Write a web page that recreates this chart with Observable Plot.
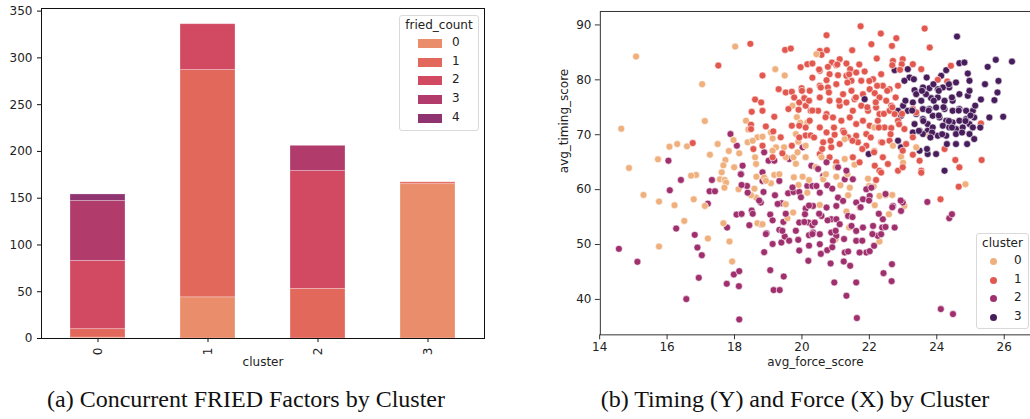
<!DOCTYPE html>
<html>
<head>
<meta charset="utf-8">
<script src="https://cdn.jsdelivr.net/npm/d3@7"></script>
<script src="https://cdn.jsdelivr.net/npm/@observablehq/plot@0.6"></script>
<style>
  html, body { margin: 0; padding: 0; background: #fff; }
  #page { position: relative; width: 1030px; height: 419px; overflow: hidden; font-family: "DejaVu Sans", sans-serif; }
  .chart { position: absolute; top: 0; }
  .legend { position: absolute; background: rgba(255,255,255,0.85); border: 1px solid #d9d9d9; border-radius: 3px; box-sizing: border-box; font-size: 12px; color: #222; }
  .legend .title { position: absolute; left: 0; right: 0; text-align: center; }
  .legend .row { position: absolute; left: 0; right: 0; height: 18px; }
  .caption { position: absolute; font-family: "Liberation Serif", "DejaVu Serif", serif; font-size: 24px; color: #111; white-space: nowrap; transform: translateX(-50%); }
</style>
</head>
<body>
<div id="page">
  <div id="left" class="chart" style="left:0px"></div>
  <div id="right" class="chart" style="left:520px"></div>
  <div id="legL" class="legend" style="left:399px; top:15px; width:80px; height:116px;"></div>
  <div id="legR" class="legend" style="left:976px; top:233px; width:53px; height:96px;"></div>
  <div class="caption" style="left:246px; top:386px;">(a) Concurrent FRIED Factors by Cluster</div>
  <div class="caption" style="left:795px; top:386px;">(b) Timing (Y) and Force (X) by Cluster</div>
</div>
<script>
// ---------- Data: left chart (stacked counts) ----------
const clusters = ["0", "1", "2", "3"];
const friedLevels = ["0", "1", "2", "3", "4"];
const friedColors = ["#e98d6b", "#e3685c", "#d14a61", "#b13c6c", "#8f3371"];
// counts per fried_count level (0..4) for each cluster
const cluster0Counts = [1, 9, 73, 64, 7];
const cluster1Counts = [44, 243, 49, 0, 0];
const cluster2Counts = [0, 53, 126, 27, 0];
const cluster3Counts = [165, 2, 0, 0, 0];
const leftYTicks = [0, 50, 100, 150, 200, 250, 300, 350];

// ---------- Data: right chart (scatter) ----------
const scatterClusters = [0, 1, 2, 3];
const scatterColors = ["#efb07d", "#e2584f", "#9f2f6d", "#481d5b"];
const xTicks = [14, 16, 18, 20, 22, 24, 26];
const yTicks = [40, 50, 60, 70, 80, 90];

// [avg_force_score, avg_timing_score]
const cluster0Points = [
[15.08,84.24],[18.02,86.06],[17.04,79.21],[17.12,72.48],[14.64,71.09],[19.21,81.94],[19.49,80.79],
[16.07,67.82],[16.30,68.30],[16.59,67.88],[17.50,68.30],[15.73,65.52],[14.87,63.94],[17.27,66.36],
[17.83,67.03],[17.97,69.03],[18.14,66.61],[18.34,72.55],[18.41,70.97],[18.68,69.52],[18.83,69.64],
[19.08,70.42],[19.13,69.33],[19.23,67.70],[17.73,65.39],[17.67,64.42],[17.99,64.06],[18.61,65.88],
[19.72,75.27],[19.82,70.12],[19.89,68.73],[20.11,68.00],[19.75,65.88],[19.47,67.70],[19.87,66.79],
[16.86,62.67],[16.71,62.55],[17.62,63.15],[18.64,64.67],[18.39,68.61],[20.16,72.24],[15.30,59.03],
[15.76,57.82],[15.76,49.64],[16.22,57.15],[16.51,54.30],[16.79,58.24],[17.12,57.03],[17.21,51.09],
[17.67,53.88],[17.85,50.55],[17.93,46.91],[17.57,61.88],[17.71,61.76],[17.75,61.27],[17.70,60.36],
[18.12,60.06],[18.59,60.18],[18.64,58.55],[18.49,58.97],[19.08,61.15],[19.18,62.67],[19.52,57.33],
[19.57,54.79],[19.74,55.82],[19.76,62.24],[20.02,62.36],[19.90,60.85],[20.16,59.45],[20.21,61.76],
[18.68,53.88],[18.83,53.70],[18.65,62.36],[18.88,62.18],[21.02,62.36],[21.14,60.79],[21.42,60.36],
[21.37,58.97],[21.96,62.00],[21.99,60.67],[22.13,60.55],[22.30,58.85],[22.48,58.97],[22.68,59.03],
[21.71,56.73],[22.16,57.15],[21.32,56.00],[22.58,55.52],[23.04,57.03],[20.53,57.21],[21.00,50.97],
[22.30,50.55],[24.85,60.97],[21.40,53.09],[20.63,61.88],[20.43,84.67],[22.15,71.33],[21.27,69.21],
[23.78,69.82],[23.39,67.70],[22.15,67.09],[22.94,65.97],[21.27,65.58],[20.58,65.88],[21.56,64.55],
[22.70,68.00],[23.00,64.90],[19.85,73.20],[19.95,72.20],
[18.54,68.90],[19.13,67.10],[19.52,65.90],[19.82,64.70],[20.11,65.90],[20.41,64.10],[20.71,62.80],
[21.00,64.10],[21.35,62.80],[19.33,62.80],[18.93,61.60]
];
const cluster1Points = [
[21.74,89.76],[23.64,89.33],[20.73,88.12],[22.34,88.42],[22.80,87.58],[22.06,86.49],[22.67,86.18],
[23.79,85.88],[20.53,85.27],[20.74,85.39],[20.58,84.55],[21.12,83.76],[21.49,85.39],[22.22,83.88],
[22.99,83.76],[22.96,82.85],[23.54,81.94],[24.42,82.55],[20.89,83.15],[20.77,82.36],[21.02,82.67],
[21.32,82.97],[21.43,81.94],[21.86,81.52],[22.35,81.03],[22.70,83.45],[22.68,82.67],[22.91,81.82],
[20.53,81.64],[20.82,81.03],[20.73,79.94],[21.07,80.85],[21.32,80.73],[21.47,79.82],[21.61,81.33],
[21.76,79.82],[22.11,80.12],[22.01,78.30],[22.16,77.57],[22.40,78.91],[22.60,78.30],[22.85,78.91],
[24.03,80.00],[24.31,79.70],[20.53,78.91],[20.77,78.61],[21.02,79.21],[21.22,77.39],[21.47,78.00],
[21.56,76.48],[21.81,77.39],[22.30,76.79],[22.50,76.18],[22.65,75.27],[20.53,76.79],[20.82,76.18],
[21.12,75.27],[21.32,75.88],[21.51,74.36],[21.76,75.27],[21.96,74.36],[22.20,74.97],[22.30,73.76],
[22.60,74.36],[22.75,73.76],[22.85,72.55],[20.48,74.36],[20.73,73.76],[20.92,73.15],[21.17,72.55],
[21.42,73.15],[21.61,71.94],[21.81,72.55],[22.01,71.64],[22.25,72.55],[22.45,71.33],[22.65,71.21],
[23.04,71.03],[23.29,74.67],[23.39,74.06],[24.23,67.39],[25.31,72.06],[25.33,65.39],[24.55,65.39],
[24.67,64.06],[23.54,63.45],[20.53,71.33],[20.73,70.42],[20.97,70.00],[21.22,70.73],[21.37,69.52],
[21.61,69.82],[21.91,70.12],[20.63,68.61],[20.87,67.70],[21.12,68.30],[21.66,68.61],[21.91,68.00],
[22.35,68.61],[22.60,68.91],[23.09,68.30],[23.29,69.52],[20.53,66.48],[20.82,65.88],[21.02,64.97],
[21.51,65.88],[21.71,64.97],[22.40,65.88],[22.55,64.67],[22.99,67.09],[22.16,64.36],[22.30,63.45],
[22.85,63.45],[23.49,65.27],[22.99,64.06],[23.29,66.36],[23.29,82.85],[23.54,63.09],[24.65,60.54],
[24.11,58.24],[22.20,61.76],[22.35,63.10],
[18.47,86.55],[19.50,85.45],[19.67,85.70],[17.52,82.61],[18.83,80.79],[19.96,82.30],[20.16,82.85],
[20.31,82.97],[18.61,76.42],[18.79,75.88],[18.51,74.18],[18.83,74.36],[19.18,73.27],[19.31,78.30],
[19.52,77.70],[19.70,77.82],[19.99,78.48],[20.23,78.00],[19.77,76.79],[19.92,75.88],[20.07,76.67],
[20.21,76.18],[19.60,74.67],[19.90,74.55],[20.11,75.27],[20.26,74.36],[18.49,71.82],[18.49,71.03],
[18.93,71.52],[19.15,70.61],[19.70,71.64],[19.92,71.64],[20.23,72.55],[20.11,69.88],[20.26,69.88],
[16.76,68.48],[18.56,67.39],[18.83,68.00],[19.37,69.52],[19.70,68.00],[19.13,65.88],[19.42,66.61],
[20.56,78.60],[20.80,77.70],[21.10,76.20],[21.35,79.50],[21.60,76.80],[21.94,75.00],[22.19,75.90],
[22.43,73.80],[20.70,73.20],[20.95,71.30],[21.25,70.40],[21.50,68.90],[21.79,67.40],[22.04,69.50],
[22.28,71.30],[20.31,74.40],[20.21,76.20],[20.00,78.00],[20.31,80.40],[20.51,81.90],[21.05,82.80],
[21.40,81.00],[21.70,82.80],[22.00,79.80],[22.23,78.90],[22.53,78.00],[22.78,76.80],[22.68,75.00],
[22.97,73.80],[22.88,71.90],[22.63,70.10],[22.38,68.60],[22.14,66.80],[20.85,68.90],[20.60,67.40],
[20.36,69.50],[20.11,71.30],[19.92,69.50]
];
const cluster2Points = [
[17.88,70.12],[18.07,68.00],[16.04,65.27],[18.24,64.36],[18.19,62.85],[18.88,66.79],[19.01,65.27],
[19.18,65.27],[19.62,65.58],[20.02,67.70],[18.83,63.15],[20.28,64.36],[14.57,49.21],[15.12,46.85],
[16.08,59.88],[16.41,61.76],[16.27,52.91],[16.82,51.76],[16.90,49.45],[17.03,48.06],[16.94,43.94],
[16.57,40.06],[17.26,59.70],[17.42,59.70],[17.33,61.76],[17.21,57.45],[17.78,53.09],[18.06,55.45],
[18.21,55.58],[17.98,44.55],[18.14,45.15],[17.77,42.85],[18.13,42.42],[18.14,36.36],[18.51,56.18],
[18.78,57.64],[18.44,53.52],[18.79,53.70],[18.95,52.06],[19.06,55.45],[18.88,48.61],[19.06,45.33],
[19.46,44.18],[19.16,41.70],[19.34,41.70],[19.39,50.36],[19.49,51.45],[19.33,52.67],[19.45,54.12],
[19.40,57.52],[19.59,59.33],[19.75,59.58],[19.92,59.58],[19.89,50.85],[19.92,54.00],[20.19,47.03],
[20.21,51.70],[20.11,56.55],[20.09,55.52],[20.19,54.00],[20.31,53.52],[20.16,60.67],[20.31,60.67],
[18.39,59.45],[18.37,60.67],[18.21,60.85],[18.86,59.58],[19.20,58.97],[18.83,61.58],[19.33,61.58],
[18.19,62.79],[20.43,60.67],[20.63,62.48],[20.53,59.45],[20.75,60.79],[20.90,60.18],[21.07,58.55],
[21.27,61.88],[21.51,61.88],[20.33,57.03],[20.73,56.73],[21.02,57.03],[21.22,57.94],[21.61,57.64],
[21.81,58.24],[21.91,60.06],[22.01,58.85],[22.06,60.36],[20.58,55.21],[20.87,54.61],[21.02,54.61],
[21.12,53.70],[21.37,55.21],[21.47,53.39],[21.61,52.48],[21.81,53.09],[22.11,53.39],[22.40,54.61],
[22.38,53.09],[22.70,57.03],[22.94,56.12],[22.99,57.64],[20.38,54.00],[20.33,52.18],[20.53,51.88],
[20.87,52.18],[21.02,51.58],[20.92,50.67],[20.53,50.06],[20.75,48.97],[21.27,48.55],[21.37,48.73],
[21.61,50.67],[21.91,48.55],[22.01,48.79],[22.14,49.76],[22.25,51.58],[22.35,51.88],[22.75,53.09],
[20.85,46.55],[21.24,46.91],[21.43,46.12],[21.71,48.55],[20.96,43.09],[21.61,43.09],[21.32,40.67],
[21.63,36.61],[22.67,46.42],[22.42,44.79],[22.66,43.33],[23.72,57.76],[24.37,54.79],[24.45,55.52],
[24.12,38.24],[24.48,37.33],[20.73,64.97],[21.07,64.06],[21.32,63.45],[20.48,63.76],
[19.72,60.40],[19.97,58.60],[20.21,57.10],[20.51,55.60],[20.76,54.40],[21.00,52.50],[21.25,51.00],
[21.50,55.00],[21.74,56.80],[21.99,58.00],[22.28,55.60],[22.48,53.20],[22.09,51.90],[21.79,50.70],
[20.31,51.90],[20.07,54.10],[19.82,52.50],[19.52,55.60],[19.28,57.40],[19.13,54.40],[19.42,52.50],
[19.62,50.70],[19.92,48.90],[20.21,49.80],[20.56,48.30],[20.90,49.50],[22.48,59.20],[22.68,56.80],
[22.93,58.00],[18.73,58.00],[18.54,55.60],[18.93,51.90],[19.13,50.10]
];
const cluster3Points = [
[24.60,87.88],[26.23,83.33],[25.75,83.64],[25.51,82.36],[24.67,83.03],[24.82,83.15],[24.28,81.76],
[24.13,80.73],[23.70,80.42],[23.14,81.94],[23.19,80.42],[23.04,79.82],[22.75,81.76],[24.92,81.15],
[24.97,79.82],[25.43,79.21],[25.80,77.70],[25.97,73.27],[25.56,73.15],[25.71,76.30],[25.31,76.42],
[25.07,74.36],[24.57,79.52],[24.37,78.61],[24.18,78.61],[24.03,78.30],[23.78,78.48],[23.59,78.61],
[23.34,78.12],[23.39,77.39],[24.67,77.39],[24.92,77.09],[24.47,76.18],[24.23,76.18],[24.03,76.79],
[23.83,76.67],[23.68,77.39],[23.54,76.18],[23.29,75.88],[23.00,75.27],[22.85,74.36],[22.94,73.45],
[23.14,74.36],[23.39,73.76],[23.59,74.67],[23.78,74.67],[23.98,74.97],[24.23,74.67],[24.47,74.36],
[24.67,74.67],[24.87,74.36],[25.11,73.15],[23.34,71.94],[23.59,72.85],[23.73,71.94],[23.88,73.45],
[24.08,73.15],[24.28,72.55],[24.47,72.24],[24.67,72.55],[24.87,72.85],[24.97,71.94],[23.29,70.42],
[23.49,70.73],[23.73,70.73],[23.88,71.33],[24.18,71.64],[24.37,71.33],[24.57,71.03],[24.77,71.33],
[25.07,71.33],[23.59,70.12],[24.03,69.82],[24.28,69.82],[24.57,70.12],[24.97,70.12],[22.85,68.91],
[22.94,67.70],[23.49,67.09],[23.73,66.48],[23.98,66.48],[24.57,68.30],[25.11,69.21],[21.86,76.48],
[21.98,66.48],[24.23,63.45],[25.83,79.80],[25.29,71.30],[24.97,78.00],[23.71,67.40],[23.32,80.10],
[23.90,79.20],
[23.76,74.40],[24.06,73.50],[24.36,72.50],[24.20,75.00],[23.91,76.20],[24.45,76.80],[24.65,74.40],
[24.85,72.50],[23.60,72.50],[23.47,70.70],[23.86,70.40],[24.16,70.10],[24.45,71.30],[24.75,70.40],
[25.00,73.50],[25.14,75.30],[23.07,76.20],[23.27,74.40],[24.06,78.00],[24.36,79.20],[23.56,78.00],
[23.81,69.50],[24.30,68.30],[24.90,68.30]
];

// ---------- Build tables ----------
const countsByCluster = [cluster0Counts, cluster1Counts, cluster2Counts, cluster3Counts];
const barRows = [];
clusters.forEach((c, i) => {
  friedLevels.forEach((f, j) => {
    barRows.push({cluster: c, fried: f, count: countsByCluster[i][j]});
  });
});

const groups = [cluster0Points, cluster1Points, cluster2Points, cluster3Points];
const points = [];
const maxLen = d3.max(groups, g => g.length);
for (let k = 0; k < maxLen; k++) {
  groups.forEach((g, c) => { if (k < g.length) points.push({x: g[k][0], y: g[k][1], c}); });
}

const baseStyle = {fontFamily: "DejaVu Sans, sans-serif", fontSize: "12px", color: "#222", background: "transparent", overflow: "visible"};

// ---------- Left chart ----------
const left = Plot.plot({
  width: 520, height: 375,
  marginLeft: 41, marginRight: 36, marginTop: 8, marginBottom: 37,
  style: baseStyle,
  x: {domain: clusters, paddingInner: 0.5, paddingOuter: 0.25, axis: null},
  y: {domain: [0, 352.8], axis: null},
  color: {domain: friedLevels, range: friedColors},
  marks: [
    Plot.barY(barRows, {x: "cluster", y: "count", fill: "fried", stroke: "#fff", strokeOpacity: 0.35, strokeWidth: 0.8}),
    Plot.frame({stroke: "#111", strokeWidth: 1}),
    Plot.axisY({ticks: leftYTicks, tickSize: 4, tickPadding: 5, label: null, stroke: "#111"}),
    Plot.axisX({tickRotate: -90, tickSize: 4, tickPadding: 5, label: null, stroke: "#111"}),
    Plot.text(["cluster"], {text: d => d, frameAnchor: "bottom", dy: 27, fontSize: 12})
  ]
});
document.getElementById("left").appendChild(left);

// ---------- Right chart ----------
const right = Plot.plot({
  width: 511, height: 375,
  marginLeft: 80, marginRight: 0, marginTop: 11, marginBottom: 40,
  style: baseStyle,
  x: {domain: [14.02, 26.78], axis: null},
  y: {domain: [33.55, 92.45], axis: null},
  color: {type: "ordinal", domain: scatterClusters, range: scatterColors},
  marks: [
    Plot.dot(points, {x: "x", y: "y", fill: "c", r: 3.5, stroke: "#fff", strokeWidth: 0.6}),
    Plot.frame({stroke: "#333", strokeWidth: 1}),
    Plot.axisX({ticks: xTicks, tickSize: 5, tickPadding: 3, label: null, stroke: "#333"}),
    Plot.axisY({ticks: yTicks, tickSize: 5, tickPadding: 4, label: null, stroke: "#333"}),
    Plot.text(["avg_force_score"], {text: d => d, frameAnchor: "bottom", dy: 31, fontSize: 12}),
    Plot.text(["avg_timing_score"], {text: d => d, frameAnchor: "left", dx: -36, rotate: -90, fontSize: 12})
  ]
});
document.getElementById("right").appendChild(right);

// ---------- Legends ----------
const legL = document.getElementById("legL");
legL.innerHTML = `<div class="title" style="top:2px">fried_count</div>` +
  friedLevels.map((f, i) => `<div class="row" style="top:${19 + i * 18.7}px">
     <div style="position:absolute;left:18px;top:4px;width:24px;height:9px;background:${friedColors[i]}"></div>
     <div style="position:absolute;left:52px;top:0px;">${f}</div></div>`).join("");

const legR = document.getElementById("legR");
legR.innerHTML = `<div class="title" style="top:2px">cluster</div>` +
  scatterClusters.map((c, i) => `<div class="row" style="top:${19 + i * 18.7}px">
     <div style="position:absolute;left:13px;top:5px;width:7px;height:7px;border-radius:50%;background:${scatterColors[i]}"></div>
     <div style="position:absolute;left:37px;top:0px;">${c}</div></div>`).join("");
</script>
</body>
</html>
